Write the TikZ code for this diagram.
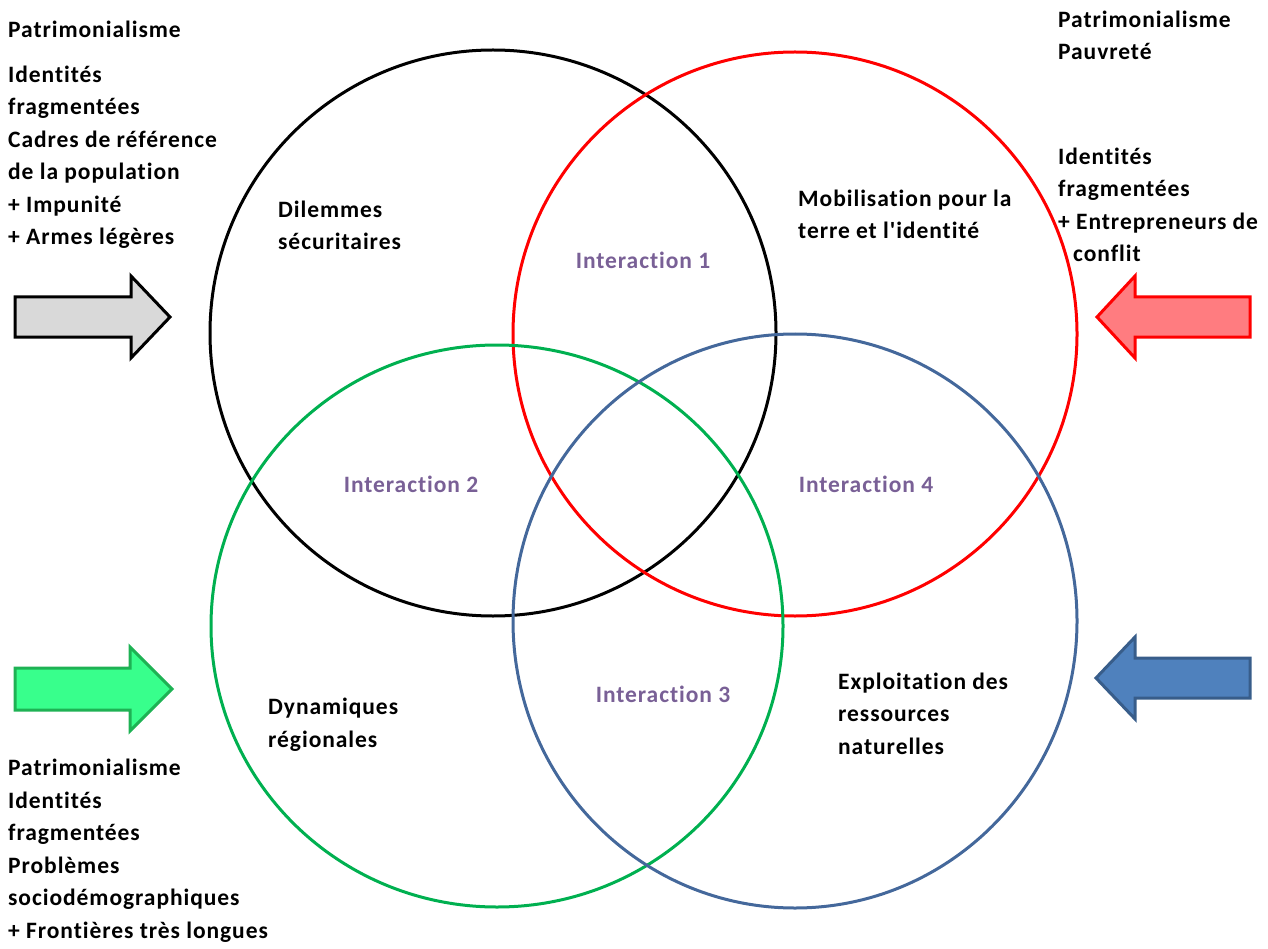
\documentclass[tikz,border=0pt]{standalone}
\usepackage{fontspec}
\setmainfont{Carlito}[Ligatures={NoCommon,TeXOff},LetterSpace=4]
\usetikzlibrary{calc}

\definecolor{interpurple}{RGB}{121,96,150}
\definecolor{vgreen}{RGB}{0,176,80}
\definecolor{vblue}{RGB}{68,104,155}
\definecolor{greyfill}{RGB}{217,217,217}
\definecolor{redfill}{RGB}{255,124,128}
\definecolor{greenfill}{RGB}{56,255,140}
\definecolor{greenline}{RGB}{30,178,84}
\definecolor{bluefill}{RGB}{79,129,189}
\definecolor{blueline}{RGB}{56,93,138}

\begin{document}
\begin{tikzpicture}[x=1pt,y=-1pt,
  ring/.style={line width=3pt},
  fat/.style={line width=3pt,line join=miter},
  % base = baseline of the last line
  note/.style={font=\fontsize{23.5}{32.5}\selectfont\bfseries,align=left,anchor=base west,inner sep=0pt},
  inter/.style={font=\fontsize{23.5}{26}\selectfont\bfseries,text=interpurple,anchor=base,inner sep=0pt}]
  \useasboundingbox (0,0) rectangle (1268,949);

  % the four circles
  \coordinate (secu) at (493,333);
  \coordinate (mobi) at (795,334);
  \coordinate (dyna) at (497,626);
  \coordinate (expl) at (795,621);

  \draw[ring,black] (secu) circle [radius=283];
  \draw[ring,red] (mobi) ellipse [x radius=282, y radius=282];
  \draw[ring,vgreen] (dyna) ellipse [x radius=286, y radius=281];
  \draw[ring,vblue] (expl) ellipse [x radius=282, y radius=287];

  % circle labels
  \node[note] (secutxt) at (278,250) {Dilemmes\\sécuritaires};
  \node[note] (mobitxt) at (798,239) {Mobilisation pour la\\terre et l'identité};
  \node[note] (dynatxt) at (268,747) {Dynamiques\\régionales};
  \node[note] (expltxt) at (838,754) {Exploitation des\\ressources\\naturelles};

  \node[inter] (int1) at (643,269) {Interaction 1};
  \node[inter] (int2) at (411,492) {Interaction 2};
  \node[inter] (int4) at (866,492) {Interaction 4};
  \node[inter] (int3) at (663,702) {Interaction 3};

  % block arrows
  \draw[fat,black,fill=greyfill] (15,297) -- (131,297) -- (131,276) -- (170,317)
    -- (131,358) -- (131,337) -- (15,337) -- cycle;
  \draw[fat,red,fill=redfill] (1250,297) -- (1135,297) -- (1135,276) -- (1097,317)
    -- (1135,358) -- (1135,337) -- (1250,337) -- cycle;
  \draw[fat,greenline,fill=greenfill] (15,668) -- (130,668) -- (130,647) -- (172,689)
    -- (130,731) -- (130,710) -- (15,710) -- cycle;
  \draw[fat,blueline,fill=bluefill] (1250,658) -- (1135,658) -- (1135,637) -- (1096,678)
    -- (1135,719) -- (1135,698) -- (1250,698) -- cycle;

  % factors
  \node[note] (tl1) at (8,38) {Patrimonialisme};
  \node[note] (tl2) at (8,245) {Identités\\fragmentées\\Cadres de référence\\de la population\\+ Impunité\\+ Armes légères};
  \node[note] (tr1) at (1058,60) {Patrimonialisme\\Pauvreté};
  \node[note] (tr2) at (1058,262) {Identités\\fragmentées\\+ Entrepreneurs de\\\hspace*{15pt}conflit};
  \node[note] (bl) at (8,938) {Patrimonialisme\\Identités\\fragmentées\\Problèmes\\sociodémographiques\\+ Frontières très longues};
\end{tikzpicture}
\end{document}
